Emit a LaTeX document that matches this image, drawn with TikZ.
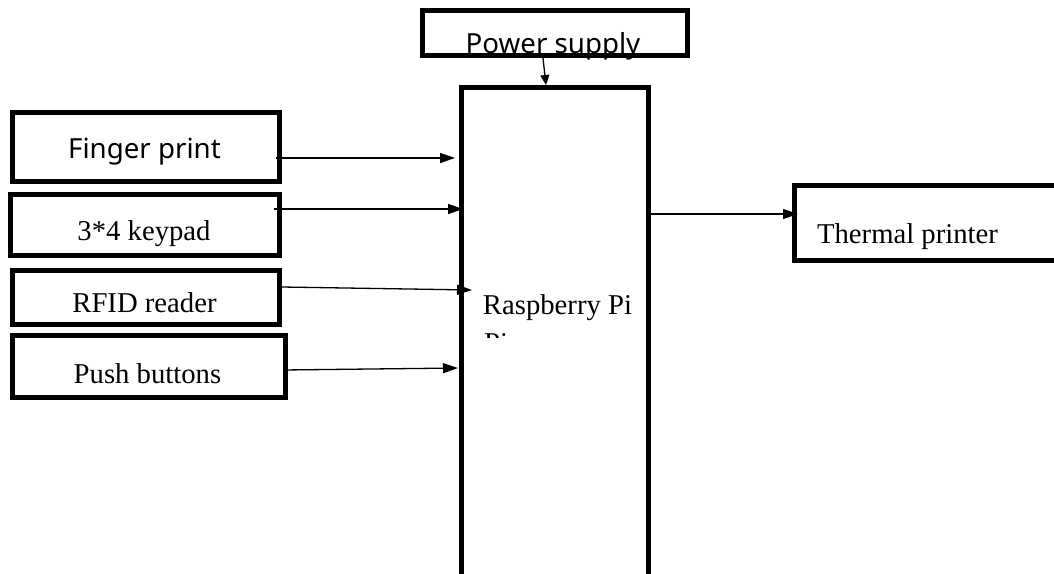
\documentclass[tikz,border=0pt]{standalone}
\usepackage{fontspec}
\setmainfont{Liberation Serif}
\newfontfamily\sansf{Noto Sans}
\usetikzlibrary{arrows.meta}
\begin{document}
\begin{tikzpicture}[x=1pt,y=-1pt,
 blk/.style={draw,line width=5pt,inner sep=0,outer sep=0},
 lbl/.style={inner sep=0,anchor=base,font=\fontsize{28.7}{38}\selectfont},
 slbl/.style={inner sep=0,anchor=base,font=\sansf\fontsize{27.7}{33}\selectfont},
 conn/.style={line width=1.3pt,-{Triangle[length=15pt,width=10pt]}},
 sconn/.style={line width=1.3pt,-{Triangle[length=10pt,width=9pt]}}]
\useasboundingbox (0,0) rectangle (1054,573);
\clip (0,0) rectangle (1054,573);
% boxes
\node[blk,minimum width=265,minimum height=45] (pwr) at (555,33) {};
\node[blk,minimum width=187,minimum height=533] (rpi) at (554.5,353.5) {};
\node[blk,minimum width=267,minimum height=69] (fp) at (146,147) {};
\node[blk,minimum width=269,minimum height=61] (kp) at (145,225) {};
\node[blk,minimum width=267,minimum height=54] (rf) at (146,297.5) {};
\node[blk,minimum width=272.5,minimum height=62] (pb) at (148.75,366.5) {};
\node[blk,minimum width=275,minimum height=75.5] (tp) at (932,222.75) {};
% texts
\node[slbl] (tpwr) at (553,53) {Power supply};
\node[slbl] (tfp) at (144.5,158) {Finger print};
\node[lbl] (tkp) at (144,240) {3*4 keypad};
\node[lbl] (trf) at (144.5,312) {RFID reader};
\node[lbl] (tpb) at (147.5,383) {Push buttons};
\node[lbl] (ttp) at (907.5,243) {Thermal printer};
\node[lbl] (trpi) at (557.5,314) {Raspberry Pi};
\begin{scope}
\clip (470,320) rectangle (640,337);
\node[lbl,anchor=base west] (tpi) at (484,352) {Pi};
\end{scope}
% connectors
\draw[sconn] ([shift={(-12,2.5)}]pwr.south) -- ([shift={(-8.5,-2)}]rpi.north);
\draw[conn] ([shift={(-3.5,11)}]fp.east) -- ([shift={(-6,-195.5)}]rpi.west);
\draw[conn] ([shift={(-5.5,-16)}]kp.east) -- ([shift={(2,-144.5)}]rpi.west);
\draw[conn] ([shift={(2.5,-10.5)}]rf.east) -- ([shift={(11,-63.5)}]rpi.west);
\draw[conn] ([shift={(-2,3.5)}]pb.east) -- ([shift={(-3,14.5)}]rpi.west);
\draw[conn] ([shift={(2,-139.5)}]rpi.east) -- ([shift={(3.5,-8.75)}]tp.west);
\end{tikzpicture}
\end{document}
